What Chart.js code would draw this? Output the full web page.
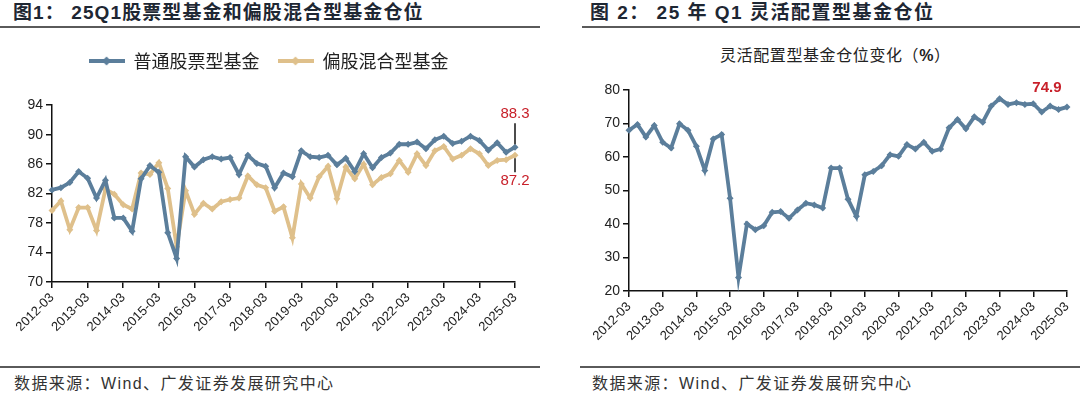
<!DOCTYPE html>
<html>
<head>
<meta charset="utf-8">
<script src="https://cdn.jsdelivr.net/npm/chart.js@4.4.1/dist/chart.umd.min.js"></script>
<style>
body{margin:0;width:1080px;height:394px;background:#fff;position:relative;overflow:hidden;font-family:"Liberation Sans","Noto Sans CJK SC",sans-serif;}
.title{position:absolute;top:0;line-height:25px;font-size:19px;font-weight:bold;color:#1e2733;letter-spacing:1.1px;font-family:"Liberation Sans","Noto Sans CJK SC",sans-serif;}
.rule{position:absolute;height:2px;background:#5a5a5a;}
.src{position:absolute;top:373px;line-height:22px;font-size:16px;color:#333;letter-spacing:1.4px;font-family:"Liberation Sans","Noto Sans CJK SC",sans-serif;}
.ctitle{position:absolute;top:45px;line-height:22px;font-size:16px;color:#222;letter-spacing:0.6px;font-family:"Liberation Sans","Noto Sans CJK SC",sans-serif;}
canvas{position:absolute;}
</style>
</head>
<body>
<div class="title" style="left:13px;">图1：&nbsp;25Q1股票型基金和偏股混合型基金仓位</div>
<div class="title" style="left:590px;letter-spacing:1.5px;">图 2：&nbsp;25 年 Q1 灵活配置型基金仓位</div>
<div class="rule" style="left:0;width:540px;top:26px;"></div>
<div class="rule" style="left:582px;width:498px;top:26px;"></div>
<div class="ctitle" style="left:720px;">灵活配置型基金仓位变化（<b>%</b>）</div>
<canvas id="leftChart" style="left:0;top:30px;width:540px;height:337px;" width="540" height="337"></canvas>
<canvas id="rightChart" style="left:560px;top:30px;width:520px;height:337px;" width="520" height="337"></canvas>
<div class="rule" style="left:0;width:540px;top:366px;height:1.5px;"></div>
<div class="rule" style="left:580px;width:500px;top:366px;height:1.5px;"></div>
<div class="src" style="left:14px;">数据来源：Wind、广发证券发展研究中心</div>
<div class="src" style="left:592px;">数据来源：Wind、广发证券发展研究中心</div>

<script>
// Données trimestrielles
const quarters = [
    '2012-03','2012-06','2012-09','2012-12','2013-03','2013-06','2013-09','2013-12',
    '2014-03','2014-06','2014-09','2014-12','2015-03','2015-06','2015-09','2015-12',
    '2016-03','2016-06','2016-09','2016-12','2017-03','2017-06','2017-09','2017-12',
    '2018-03','2018-06','2018-09','2018-12','2019-03','2019-06','2019-09','2019-12',
    '2020-03','2020-06','2020-09','2020-12','2021-03','2021-06','2021-09','2021-12',
    '2022-03','2022-06','2022-09','2022-12','2023-03','2023-06','2023-09','2023-12',
    '2024-03','2024-06','2024-09','2024-12','2025-03'
];
// 普通股票型基金
const stockFund = [
    82.5,82.8,83.5,85.0,84.1,81.4,83.8,78.7,78.7,76.9,84.0,85.8,84.9,76.7,73.2,87.0,
    85.6,86.6,87.0,86.7,86.9,84.6,87.2,86.1,85.7,82.8,84.8,84.3,87.8,87.0,86.9,87.2,
    85.9,86.8,85.0,87.4,85.5,86.9,87.5,88.7,88.7,89.0,88.1,89.3,89.8,88.8,89.1,89.8,
    89.2,87.9,88.9,87.6,88.3
];
// 偏股混合型基金
const mixedFund = [
    79.7,81.0,77.1,80.1,80.1,77.0,82.6,81.9,80.5,79.9,84.8,84.6,86.2,82.7,74.8,82.4,
    79.2,80.7,79.9,80.9,81.2,81.4,84.4,83.2,82.8,79.6,80.2,76.0,83.3,81.4,84.3,85.7,
    81.3,85.6,84.0,86.0,83.2,84.2,84.7,86.5,84.9,87.4,85.8,87.8,88.4,86.7,87.2,88.1,
    87.4,85.8,86.5,86.6,87.2
];
// 灵活配置型基金
const flexFund = [
    68.0,69.7,66.0,69.4,64.4,62.7,69.9,68.0,63.2,56.0,65.4,66.7,47.7,24.0,40.0,38.3,
    39.5,43.5,43.7,41.7,44.2,46.2,45.7,44.8,56.7,56.7,47.4,42.3,54.7,55.7,57.4,60.7,
    60.2,63.7,62.4,64.4,61.7,62.4,68.7,71.2,68.4,72.0,70.4,75.2,77.4,75.7,76.2,75.7,
    75.9,73.4,75.2,74.2,74.9
];
const leftTicks = [70, 94, 4];
const rightTicks = [20, 80, 10];

const BLUE = '#5b7e9b';
const TAN = '#dfc08b';
const RED = '#c8202a';

// petit pictogramme ligne + losange pour la légende
function legendIcon(color) {
    const c = document.createElement('canvas');
    c.width = 36; c.height = 12;
    const g = c.getContext('2d');
    g.strokeStyle = color; g.lineWidth = 3.8;
    g.beginPath(); g.moveTo(0, 6); g.lineTo(36, 6); g.stroke();
    g.fillStyle = color;
    g.beginPath(); g.moveTo(18, 1.5); g.lineTo(22.5, 6); g.lineTo(18, 10.5); g.lineTo(13.5, 6); g.closePath(); g.fill();
    return c;
}

// étiquettes des dernières valeurs
const lastLabels = {
    id: 'lastLabels',
    afterDatasetsDraw(chart, args, opts) {
        const {ctx} = chart;
        const x = chart.scales.x, y = chart.scales.y;
        (opts.items || []).forEach(it => {
            const px = x.getPixelForValue(it.index);
            const py = y.getPixelForValue(it.value);
            ctx.save();
            if (it.line) {
                ctx.strokeStyle = '#111'; ctx.lineWidth = 1.5;
                ctx.beginPath(); ctx.moveTo(px, py + it.line[0]); ctx.lineTo(px, py + it.line[1]); ctx.stroke();
            }
            ctx.fillStyle = RED;
            ctx.font = (it.bold ? 'bold ' : '') + '15px "Liberation Sans"';
            ctx.textAlign = 'center'; ctx.textBaseline = 'middle';
            ctx.fillText(it.value.toFixed(1), px + it.dx, py + it.dy);
            ctx.restore();
        });
    }
};

function xAxis(h) {
    return {
        grid: {drawOnChartArea: false, tickLength: 6, lineWidth: 1.5,
               color: ctx => ctx.index % 4 === 0 ? '#111' : 'rgba(0,0,0,0)'},
        border: {color: '#111', width: 1.5},
        ticks: {autoSkip: false, minRotation: 45, maxRotation: 45, padding: 2, color: '#222',
                font: {size: 13, family: 'Liberation Sans'},
                callback: (v, i) => i % 4 === 0 ? quarters[i] : ''},
        afterFit: s => { s.height = h; }
    };
}
function yAxis(t, w) {
    return {
        min: t[0], max: t[1],
        grid: {drawOnChartArea: false, tickLength: 6, lineWidth: 1.5, color: '#111'},
        border: {color: '#111', width: 1.5},
        ticks: {stepSize: t[2], padding: 3, color: '#222', font: {size: 14, family: 'Liberation Sans'}},
        afterFit: s => { s.width = w; }
    };
}
function series(label, data, color) {
    return {
        label: label, data: data,
        borderColor: color, backgroundColor: color,
        borderWidth: 3.8, pointStyle: 'rectRot', pointRadius: 3.5,
        pointBorderWidth: 0, tension: 0
    };
}

function renderCharts() {
    new Chart(document.getElementById('leftChart'), {
        type: 'line',
        data: {
            labels: quarters,
            datasets: [series('普通股票型基金', stockFund, BLUE), series('偏股混合型基金', mixedFund, TAN)]
        },
        options: {
            responsive: false, animation: false,
            layout: {padding: {top: 4, right: 25, left: 22, bottom: 0}},
            plugins: {
                legend: {
                    position: 'top', weight: 3000,
                    labels: {
                        usePointStyle: true, pointStyleWidth: 36, padding: 18, color: '#222',
                        font: {size: 18, family: 'Noto Sans CJK SC'},
                        generateLabels: chart => chart.data.datasets.map((d, i) => ({
                            text: d.label, pointStyle: legendIcon(d.borderColor),
                            fillStyle: d.borderColor, strokeStyle: d.borderColor, lineWidth: 0,
                            fontColor: '#222', datasetIndex: i, hidden: false
                        }))
                    }
                },
                // espace vide entre la légende et la zone du graphique
                subtitle: {display: true, text: '', position: 'top', weight: 1500,
                           font: {size: 1}, padding: {top: 0, bottom: 24}},
                tooltip: {enabled: false},
                lastLabels: {items: [
                    {index: quarters.length - 1, value: stockFund[stockFund.length - 1], dx: 0, dy: -33, line: [-3, -24]},
                    {index: quarters.length - 1, value: mixedFund[mixedFund.length - 1], dx: 0, dy: 26, line: [3, 17]}
                ]}
            },
            scales: {x: xAxis(85), y: yAxis(leftTicks, 30)}
        },
        plugins: [lastLabels]
    });

    new Chart(document.getElementById('rightChart'), {
        type: 'line',
        data: {
            labels: quarters,
            datasets: [series('灵活配置型基金', flexFund, BLUE)]
        },
        options: {
            responsive: false, animation: false,
            layout: {padding: {top: 60, right: 12, left: 0, bottom: 0}},
            plugins: {
                legend: {display: false},
                tooltip: {enabled: false},
                lastLabels: {items: [
                    {index: quarters.length - 1, value: flexFund[flexFund.length - 1], dx: -20, dy: -19, bold: true}
                ]}
            },
            scales: {x: xAxis(76), y: yAxis(rightTicks, 69)}
        },
        plugins: [lastLabels]
    });
}

document.addEventListener('DOMContentLoaded', renderCharts);
</script>
</body>
</html>
